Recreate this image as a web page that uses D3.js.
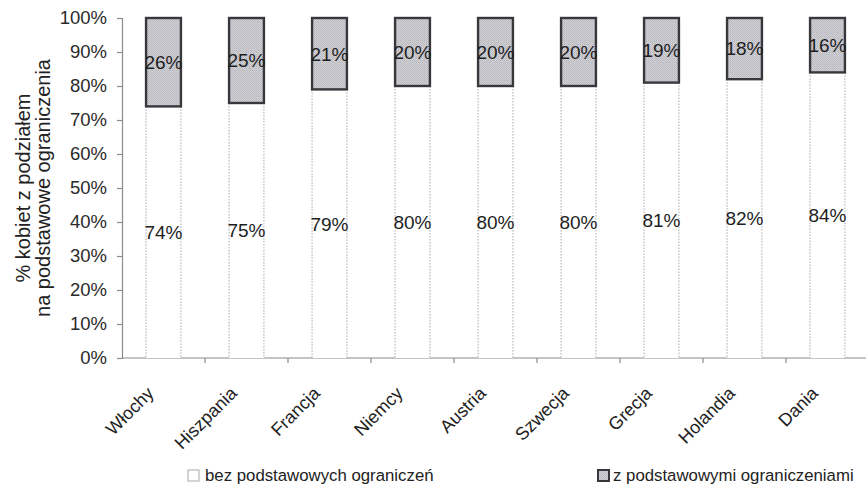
<!DOCTYPE html>
<html>
<head>
<meta charset="utf-8">
<script src="https://cdn.jsdelivr.net/npm/d3@7"></script>
<style>
  html, body { margin: 0; padding: 0; background: #fff; }
  svg { display: block; font-family: "Liberation Sans", Arial, sans-serif; }
</style>
</head>
<body>
<svg id="chart" width="866" height="485"></svg>
<script>
// Countries and the share of women in each group (percent)
const countries = ["Włochy", "Hiszpania", "Francja", "Niemcy", "Austria", "Szwecja", "Grecja", "Holandia", "Dania"];
const withoutLimits = [74, 75, 79, 80, 80, 80, 81, 82, 84];
const withLimits = [26, 25, 21, 20, 20, 20, 19, 18, 16];
const yTicks = [0, 10, 20, 30, 40, 50, 60, 70, 80, 90, 100];
const seriesNames = ["bez podstawowych ograniczeń", "z podstawowymi ograniczeniami"];
const axisTitle = ["% kobiet z podziałem", "na podstawowe ograniczenia"];

const svg = d3.select("#chart");
const margin = { left: 122, top: 18, right: -3, bottom: 127 };
const W = 866, H = 485;

// Stippled grey fill for the upper segments
const defs = svg.append("defs");
const pat = defs.append("pattern")
  .attr("id", "stipple").attr("patternUnits", "userSpaceOnUse")
  .attr("width", 2).attr("height", 2);
pat.append("rect").attr("width", 2).attr("height", 2).attr("fill", "#d0d0d5");
pat.append("rect").attr("width", 1).attr("height", 1).attr("fill", "#b6b6bd");
pat.append("rect").attr("x", 1).attr("y", 1).attr("width", 1).attr("height", 1).attr("fill", "#bfbfc5");

const x = d3.scaleBand()
  .domain(countries)
  .range([margin.left, W - margin.right])
  .paddingInner(0.58).paddingOuter(0.29);

const y = d3.scaleLinear().domain([0, 100]).range([H - margin.bottom, margin.top]);

// Y axis
const yAxis = svg.append("g")
  .attr("transform", `translate(${margin.left},0)`)
  .call(d3.axisLeft(y).tickValues(yTicks).tickFormat(d => d + "%").tickSize(5).tickPadding(10));
yAxis.select(".domain").attr("stroke", "#8a8a90").attr("stroke-width", 1.2);
yAxis.selectAll(".tick line").attr("stroke", "#8a8a90").attr("stroke-width", 1.2);
yAxis.selectAll(".tick text").attr("font-size", 18.5).attr("fill", "#2a2a2a")
  .attr("font-family", "'Liberation Sans', Arial, sans-serif");

// X axis line with ticks at the boundaries between categories
const gap = x.step() - x.bandwidth();
const xAxisG = svg.append("g");
xAxisG.append("line")
  .attr("x1", margin.left).attr("x2", W)
  .attr("y1", y(0)).attr("y2", y(0))
  .attr("stroke", "#8a8a90").attr("stroke-width", 1.2);
xAxisG.selectAll("line.tick")
  .data(countries.slice(1))
  .join("line")
  .attr("class", "tick")
  .attr("x1", d => x(d) - gap / 2)
  .attr("x2", d => x(d) - gap / 2)
  .attr("y1", y(0)).attr("y2", y(0) + 5)
  .attr("stroke", "#8a8a90").attr("stroke-width", 1.2);

// Lower segment: white with dotted side borders
const lower = svg.append("g");
countries.forEach((c, i) => {
  const x0 = x(c), x1 = x(c) + x.bandwidth();
  const yt = y(withoutLimits[i]), yb = y(0);
  lower.append("rect").attr("x", x0).attr("y", yt).attr("width", x.bandwidth()).attr("height", yb - yt).attr("fill", "#fff");
  [x0, x1].forEach(xx => lower.append("line")
    .attr("x1", xx).attr("x2", xx).attr("y1", yt).attr("y2", yb)
    .attr("stroke", "#a8a8ae").attr("stroke-width", 1).attr("stroke-dasharray", "1.5,1.5"));
});

// Upper segment: stippled grey with dark border
svg.append("g").selectAll("rect")
  .data(countries)
  .join("rect")
  .attr("x", d => x(d))
  .attr("y", (d, i) => y(withoutLimits[i] + withLimits[i]))
  .attr("width", x.bandwidth())
  .attr("height", (d, i) => y(withoutLimits[i]) - y(withoutLimits[i] + withLimits[i]))
  .attr("fill", "url(#stipple)")
  .attr("stroke", "#38383c").attr("stroke-width", 2.4);

// Value labels centred in each segment
const labels = svg.append("g").attr("font-size", 19).attr("fill", "#1e1e1e").attr("text-anchor", "middle");
countries.forEach((c, i) => {
  const cx = x(c) + x.bandwidth() / 2;
  labels.append("text").attr("x", cx).attr("y", y(withoutLimits[i] / 2)).attr("dy", "0.36em")
    .text(withoutLimits[i] + "%");
  labels.append("text").attr("x", cx).attr("y", y(withoutLimits[i] + withLimits[i] / 2)).attr("dy", "0.36em")
    .text(withLimits[i] + "%");
});

// Rotated category labels
svg.append("g").selectAll("text")
  .data(countries)
  .join("text")
  .attr("transform", d => `translate(${x(d) + x.bandwidth() / 2 - 13},${y(0) + 32}) rotate(-45)`)
  .attr("text-anchor", "end")
  .attr("dy", "0.35em")
  .attr("font-size", 18).attr("fill", "#222")
  .text(d => d);

// Y axis title (two lines)
const title = svg.append("text")
  .attr("transform", `translate(30,${(y(0) + y(100)) / 2}) rotate(-90)`)
  .attr("text-anchor", "middle").attr("font-size", 20).attr("fill", "#222");
title.append("tspan").attr("x", 0).attr("y", 0).text(axisTitle[0]);
title.append("tspan").attr("x", 0).attr("y", 20).text(axisTitle[1]);

// Legend
const legend = svg.append("g").attr("font-size", 16.8).attr("fill", "#222");
legend.append("rect").attr("x", 188).attr("y", 470).attr("width", 11).attr("height", 11)
  .attr("fill", "#fff").attr("stroke", "#a8a8ae").attr("stroke-width", 1);
legend.append("text").attr("x", 205).attr("y", 480.5).text(seriesNames[0]);
legend.append("rect").attr("x", 598).attr("y", 470).attr("width", 11).attr("height", 11)
  .attr("fill", "url(#stipple)").attr("stroke", "#38383c").attr("stroke-width", 2);
legend.append("text").attr("x", 613).attr("y", 480.5).text(seriesNames[1]);
</script>
</body>
</html>
